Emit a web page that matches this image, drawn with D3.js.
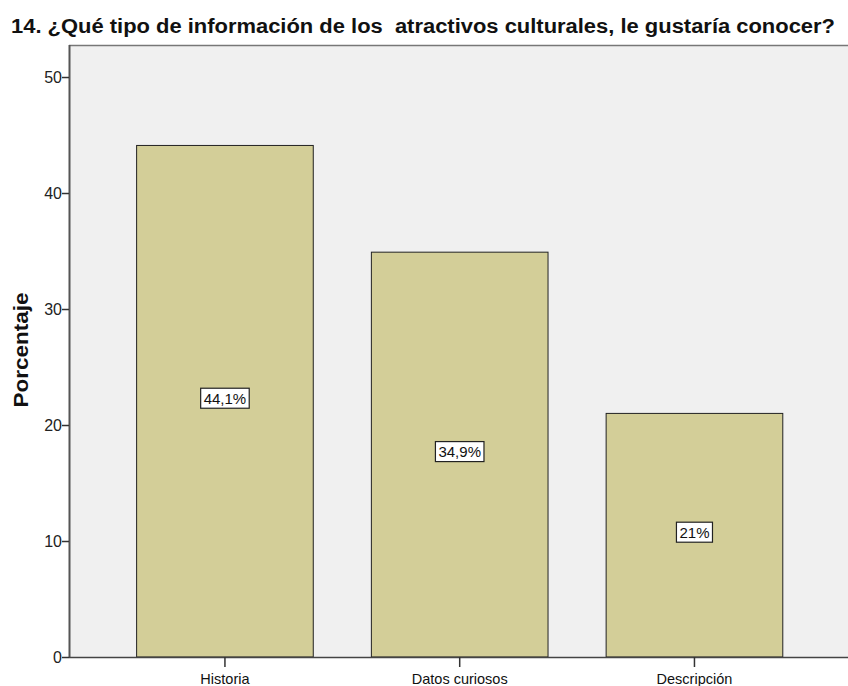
<!DOCTYPE html>
<html>
<head>
<meta charset="utf-8">
<script src="https://cdn.jsdelivr.net/npm/d3@7"></script>
<style>
  body { margin: 0; background: #fff; }
  text { font-family: "Liberation Sans", Arial, sans-serif; }
</style>
</head>
<body>
<div id="chart"></div>
<script>
var width = 848;
var height = 686;

var title = "14. ¿Qué tipo de información de los  atractivos culturales, le gustaría conocer?";
var categories = ["Historia", "Datos curiosos", "Descripción"];
var values = [44.1, 34.9, 21];
var valueLabels = ["44,1%", "34,9%", "21%"];
var yTicks = [0, 10, 20, 30, 40, 50];

var margin = {top: 45, right: 0, bottom: 29, left: 69};

var x = d3.scaleBand()
  .domain(categories)
  .range([margin.left, 850.4])
  .paddingInner(0.2475)
  .paddingOuter(0.288);

var y = d3.scaleLinear()
  .domain([0, 52.76])
  .range([height - margin.bottom, margin.top]);

var svg = d3.select("#chart").append("svg")
  .attr("width", width)
  .attr("height", height);

// plot background
svg.append("rect")
  .attr("x", margin.left)
  .attr("y", margin.top)
  .attr("width", width - margin.left)
  .attr("height", y(0) - margin.top)
  .attr("fill", "#f0f0f0");

svg.append("line")
  .attr("x1", margin.left).attr("x2", width)
  .attr("y1", margin.top + 0.5).attr("y2", margin.top + 0.5)
  .attr("stroke", "#777").attr("stroke-width", 1.5);

// bars
svg.append("g")
  .selectAll("rect")
  .data(values)
  .join("rect")
    .attr("x", (d, i) => x(categories[i]))
    .attr("y", d => y(d))
    .attr("width", x.bandwidth())
    .attr("height", d => y(0) - y(d))
    .attr("fill", "#d3ce98")
    .attr("stroke", "#222")
    .attr("stroke-width", 1);

// value labels
var lab = svg.append("g")
  .selectAll("g")
  .data(values)
  .join("g")
    .attr("transform", (d, i) => `translate(${x(categories[i]) + x.bandwidth() / 2},${y(d / 2) - 3})`);

lab.append("text")
  .attr("text-anchor", "middle")
  .attr("dy", "0.36em")
  .attr("font-size", 15)
  .attr("fill", "#111")
  .text((d, i) => valueLabels[i]);

lab.each(function() {
  var g = d3.select(this);
  var bb = g.select("text").node().getBBox();
  g.insert("rect", "text")
    .attr("x", bb.x - 3)
    .attr("y", -10)
    .attr("width", bb.width + 6)
    .attr("height", 20)
    .attr("fill", "#fff")
    .attr("stroke", "#222")
    .attr("stroke-width", 1.2);
});

// axes
var gy = svg.append("g")
  .attr("transform", `translate(${margin.left},0)`)
  .call(d3.axisLeft(y).tickValues(yTicks).tickSize(7).tickPadding(0));
gy.select(".domain").attr("stroke", "#555").attr("stroke-width", 2)
  .attr("d", `M0.5,${margin.top}V${y(0)}`);
gy.selectAll(".tick line").attr("stroke", "#333").attr("stroke-width", 1.5);
gy.selectAll(".tick text").attr("font-size", 16).attr("fill", "#222")
  .style("font-family", "'Liberation Sans', Arial, sans-serif");

var gx = svg.append("g")
  .attr("transform", `translate(0,${y(0)})`)
  .call(d3.axisBottom(x).tickSize(10).tickPadding(7));
gx.select(".domain").attr("stroke", "#444").attr("stroke-width", 1.5)
  .attr("d", `M${margin.left},0.5H${width}`);
gx.selectAll(".tick line").attr("stroke", "#333").attr("stroke-width", 1.5);
gx.selectAll(".tick text").attr("font-size", 14.5).attr("fill", "#111")
  .style("font-family", "'Liberation Sans', Arial, sans-serif");

// y label
svg.append("text")
  .attr("transform", `translate(28,350) rotate(-90)`)
  .attr("text-anchor", "middle")
  .attr("font-size", 20)
  .attr("font-weight", "bold")
  .attr("fill", "#111")
  .attr("textLength", 115)
  .attr("lengthAdjust", "spacingAndGlyphs")
  .text("Porcentaje");

// title
svg.append("text")
  .attr("x", 11)
  .attr("y", 33)
  .attr("font-size", 20)
  .attr("font-weight", "bold")
  .attr("fill", "#111")
  .attr("textLength", 824)
  .attr("lengthAdjust", "spacingAndGlyphs")
  .style("white-space", "pre")
  .text(title);
</script>
</body>
</html>
